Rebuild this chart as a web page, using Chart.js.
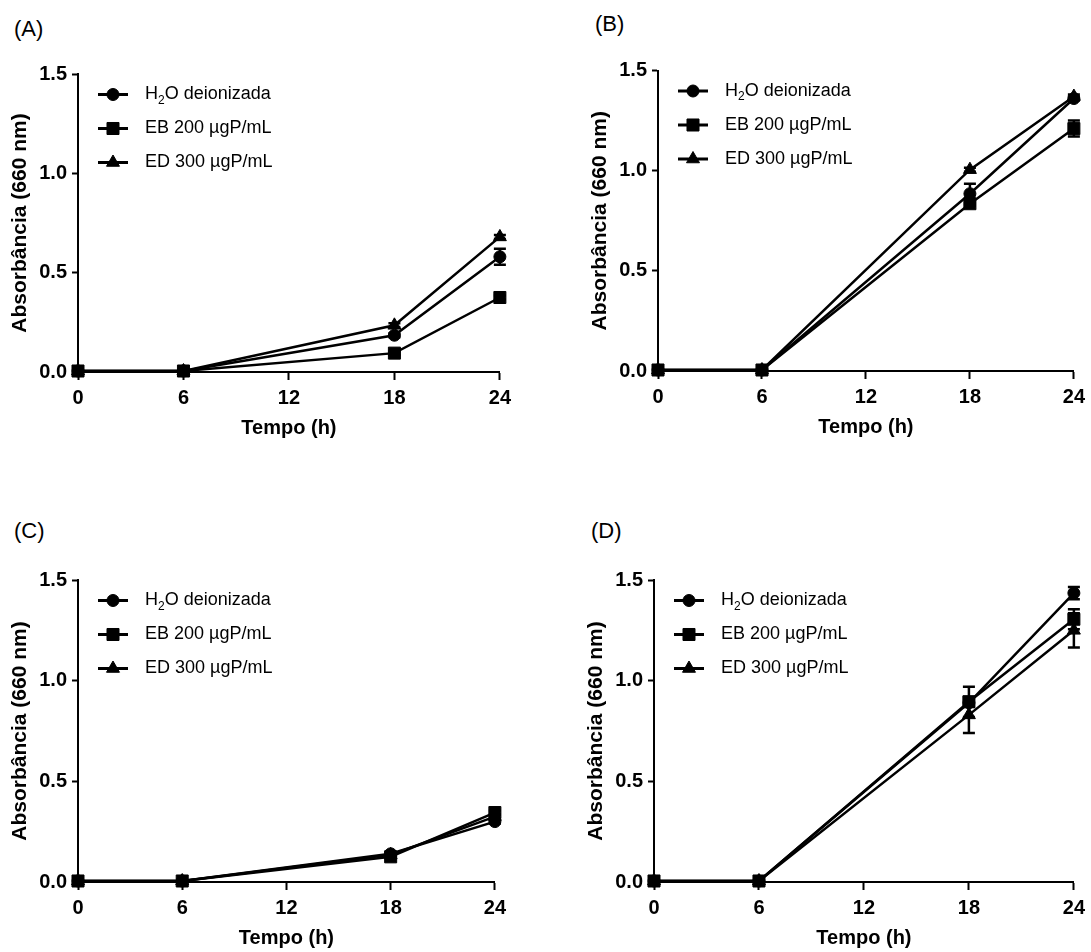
<!DOCTYPE html>
<html>
<head>
<meta charset="utf-8">
<script src="https://cdn.jsdelivr.net/npm/chart.js@4.4.1/dist/chart.umd.min.js"></script>
<style>
  html, body { margin: 0; padding: 0; background: #fff; overflow: hidden; }
  #page { position: relative; width: 1091px; height: 952px; }
  canvas { position: absolute; }
  .tag { position: absolute; font: 22px "Liberation Sans", Arial, sans-serif; line-height: 1; color: #000; }
</style>
</head>
<body>
<div id="page">
  <div class="tag" style="left:14px;top:18px">(A)</div>
  <div class="tag" style="left:595px;top:13px">(B)</div>
  <div class="tag" style="left:14px;top:520px">(C)</div>
  <div class="tag" style="left:591px;top:520px">(D)</div>
  <canvas id="panelA"></canvas>
  <canvas id="panelB"></canvas>
  <canvas id="panelC"></canvas>
  <canvas id="panelD"></canvas>
</div>
<script>
const times = [0, 6, 18, 24];
const xTicks = [0, 6, 12, 18, 24];
const yTicks = [0, 0.5, 1.0, 1.5];
const seriesLabels = ["H₂O deionizada", "EB 200 µgP/mL", "ED 300 µgP/mL"];

// (A)
const aH2O = [0.005, 0.005, 0.185, 0.58];
const aEB  = [0.005, 0.005, 0.095, 0.375];
const aED  = [0.005, 0.005, 0.235, 0.68];
const aH2OErr = [0, 0, 0.01, 0.04];
const aEBErr  = [0, 0, 0.01, 0.01];
const aEDErr  = [0, 0, 0.01, 0.01];

// (B)
const bH2O = [0.005, 0.005, 0.885, 1.36];
const bEB  = [0.005, 0.005, 0.835, 1.21];
const bED  = [0.005, 0.005, 1.005, 1.37];
const bH2OErr = [0, 0, 0.05, 0.01];
const bEBErr  = [0, 0, 0.01, 0.04];
const bEDErr  = [0, 0, 0.01, 0.01];

// (C)
const cH2O = [0.005, 0.005, 0.14, 0.30];
const cEB  = [0.005, 0.005, 0.125, 0.345];
const cED  = [0.005, 0.005, 0.135, 0.325];
const cH2OErr = [0, 0, 0.01, 0.01];
const cEBErr  = [0, 0, 0.01, 0.01];
const cEDErr  = [0, 0, 0.01, 0.01];

// (D)
const dH2O = [0.005, 0.005, 0.89, 1.435];
const dEB  = [0.005, 0.005, 0.895, 1.305];
const dED  = [0.005, 0.005, 0.83, 1.25];
const dH2OErr = [0, 0, 0.02, 0.03];
const dEBErr  = [0, 0, 0.075, 0.05];
const dEDErr  = [0, 0, 0.09, 0.085];

const FONT = '"Liberation Sans", Arial, sans-serif';
const markers = [
  { style: "circle", r: 6 },
  { style: "rect", r: 8.5 },
  { style: "triangle", r: 7.5 },
];

// error bars drawn through the chart's own scales
const errorBars = {
  id: "errorBars",
  beforeDatasetsDraw(chart, args, opts) {
    const ctx = chart.ctx, xs = chart.scales.x, ys = chart.scales.y;
    ctx.save();
    ctx.strokeStyle = "#000";
    ctx.lineWidth = 2.5;
    chart.data.datasets.forEach((ds, i) => {
      (opts.errors[i] || []).forEach((e, j) => {
        if (!e) return;
        const v = ds.data[j].y;
        const px = xs.getPixelForValue(ds.data[j].x);
        const top = ys.getPixelForValue(v + e);
        const bot = ys.getPixelForValue(v - e);
        ctx.beginPath();
        ctx.moveTo(px, top); ctx.lineTo(px, bot);
        ctx.moveTo(px - 6, top); ctx.lineTo(px + 6, top);
        ctx.moveTo(px - 6, bot); ctx.lineTo(px + 6, bot);
        ctx.stroke();
      });
    });
    ctx.restore();
  },
};

// legend inside the plot, top left
const insetLegend = {
  id: "insetLegend",
  afterDraw(chart) {
    const ctx = chart.ctx, a = chart.chartArea;
    ctx.save();
    chart.data.datasets.forEach((ds, i) => {
      const y = a.top + 20.5 + i * 34;
      ctx.strokeStyle = "#000";
      ctx.fillStyle = "#000";
      ctx.lineWidth = 3;
      ctx.beginPath();
      ctx.moveTo(a.left + 20, y);
      ctx.lineTo(a.left + 50, y);
      ctx.stroke();
      ctx.lineWidth = 1;
      Chart.helpers.drawPoint(ctx, { pointStyle: ds.pointStyle, radius: ds.pointRadius, rotation: 0, borderWidth: 1 }, a.left + 35, y);

      ctx.textBaseline = "middle";
      ctx.textAlign = "left";
      ctx.font = "18px " + FONT;
      let x = a.left + 67;
      const parts = ds.label.split("₂");
      ctx.fillText(parts[0], x, y);
      if (parts.length > 1) {
        x += ctx.measureText(parts[0]).width;
        ctx.font = "12px " + FONT;
        ctx.fillText("2", x, y + 6);
        x += ctx.measureText("2").width;
        ctx.font = "18px " + FONT;
        ctx.fillText(parts[1], x, y);
      }
    });
    ctx.restore();
  },
};

function makePanel(id, geo, series, errors) {
  const cv = document.getElementById(id);
  cv.width = geo.w;
  cv.height = geo.h;
  cv.style.left = geo.x + "px";
  cv.style.top = geo.y + "px";

  new Chart(cv, {
    type: "line",
    data: {
      datasets: series.map((vals, i) => ({
        label: seriesLabels[i],
        data: times.map((t, j) => ({ x: t, y: vals[j] })),
        borderColor: "#000",
        backgroundColor: "#000",
        borderWidth: 2.5,
        pointStyle: markers[i].style,
        pointRadius: markers[i].r,
        pointHoverRadius: markers[i].r,
        pointBorderWidth: 1,
        tension: 0,
        clip: false,
      })),
    },
    options: {
      responsive: false,
      animation: false,
      devicePixelRatio: 1,
      events: [],
      layout: { padding: { left: 0, top: geo.pt, right: 14, bottom: 0 } },
      plugins: {
        legend: { display: false },
        tooltip: { enabled: false },
        errorBars: { errors: errors },
      },
      scales: {
        x: {
          type: "linear",
          min: 0,
          max: 24,
          afterBuildTicks: (s) => { s.ticks = xTicks.map((v) => ({ value: v })); },
          afterFit: (s) => { s.height = 70; },
          border: { display: true, color: "#000", width: 2 },
          grid: { drawOnChartArea: false, drawTicks: true, tickLength: 8, tickColor: "#000", tickWidth: 2 },
          ticks: { color: "#000", font: { family: FONT, size: 20, weight: "bold" }, padding: 6, maxRotation: 0, autoSkip: false },
          title: { display: true, text: "Tempo (h)", color: "#000", font: { family: FONT, size: 20, weight: "bold" }, padding: { top: 0, bottom: 2 } },
        },
        y: {
          type: "linear",
          min: 0,
          max: 1.5,
          afterBuildTicks: (s) => { s.ticks = yTicks.map((v) => ({ value: v })); },
          afterFit: (s) => { s.width = 78; },
          border: { display: true, color: "#000", width: 2 },
          grid: { drawOnChartArea: false, drawTicks: true, tickLength: 6, tickColor: "#000", tickWidth: 2 },
          ticks: { color: "#000", font: { family: FONT, size: 20, weight: "bold" }, padding: 5, callback: (v) => Number(v).toFixed(1) },
          title: { display: true, text: "Absorbância (660 nm)", color: "#000", font: { family: FONT, size: 21, weight: "bold" }, padding: { top: 8, bottom: 0 } },
        },
      },
    },
    plugins: [errorBars, insetLegend],
  });
}

makePanel("panelA", { x: 0, y: 0, w: 517, h: 442, pt: 74 }, [aH2O, aEB, aED], [aH2OErr, aEBErr, aEDErr]);
makePanel("panelB", { x: 580, y: 0, w: 511, h: 441, pt: 70.5 }, [bH2O, bEB, bED], [bH2OErr, bEBErr, bEDErr]);
makePanel("panelC", { x: 0, y: 480, w: 512, h: 472, pt: 100 }, [cH2O, cEB, cED], [cH2OErr, cEBErr, cEDErr]);
makePanel("panelD", { x: 576, y: 480, w: 515, h: 472, pt: 100 }, [dH2O, dEB, dED], [dH2OErr, dEBErr, dEDErr]);
</script>
</body>
</html>
